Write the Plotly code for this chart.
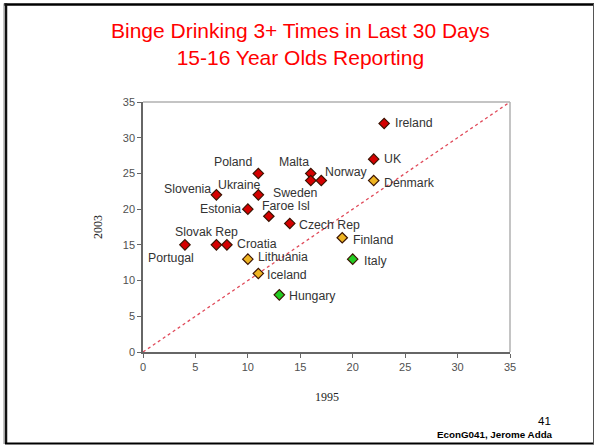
import plotly.graph_objects as go

# Share of 15-16 year olds reporting binge drinking 3+ times in the last 30 days
countries = ["Ireland", "UK", "Denmark", "Poland", "Malta", "Sweden", "Norway",
             "Slovenia", "Ukraine", "Estonia", "Faroe Isl", "Czech Rep", "Finland",
             "Portugal", "Slovak Rep", "Croatia", "Lithuania", "Iceland", "Italy", "Hungary"]
y1995 = [23, 22, 22, 11, 16, 16, 17, 7, 11, 10, 12, 14, 19, 4, 7, 8, 10, 11, 20, 13]
y2003 = [32, 27, 24, 25, 25, 24, 24, 22, 22, 20, 19, 18, 16, 15, 15, 15, 13, 11, 13, 8]
trend = ["up", "up", "mid", "up", "up", "up", "up", "up", "up", "up", "up", "up", "mid",
         "up", "up", "up", "mid", "mid", "down", "down"]

x_ticks = [0, 5, 10, 15, 20, 25, 30, 35]
y_ticks = [0, 5, 10, 15, 20, 25, 30, 35]
diag = [0, 35]

colors = {"up": "#d40000", "mid": "#eeb422", "down": "#22cc22"}

# label placement: (xanchor, xshift px, yshift px)
label_pos = {
    "Ireland": ("left", 10, 0), "UK": ("left", 9, 0), "Denmark": ("left", 9, -2),
    "Poland": ("right", -5, 11), "Malta": ("right", -1, 11), "Sweden": ("center", -15, -12),
    "Norway": ("left", 3, 9), "Slovenia": ("right", -4, 6), "Ukraine": ("center", -19, 10),
    "Estonia": ("right", -6, 0), "Faroe Isl": ("center", 17, 10), "Czech Rep": ("left", 8, -2),
    "Finland": ("left", 10, -2), "Portugal": ("center", -14, -13), "Slovak Rep": ("center", -10, 13),
    "Croatia": ("left", 9, 1), "Lithuania": ("left", 9, 2), "Iceland": ("left", 8, -2),
    "Italy": ("left", 10, -2), "Hungary": ("left", 9, -1),
}

W, H = 594, 445
L, R, T, B = 143, 84, 102, 93
PW, PH = W - L - R, H - T - B


def px(x):
    return (x - L) / PW


def py(y):
    return (H - B - y) / PH


fig = go.Figure()

fig.add_trace(go.Scatter(
    x=diag, y=diag, mode="lines",
    line=dict(color="#e04a5a", width=1.3, dash="dot"),
    hoverinfo="skip", showlegend=False,
))

fig.add_trace(go.Scatter(
    x=y1995, y=y2003, mode="markers", text=countries,
    marker=dict(symbol="diamond", size=8,
                color=[colors[t] for t in trend],
                line=dict(color="#3a1200", width=1.2)),
    showlegend=False,
))

annotations = []
for name, xv, yv in zip(countries, y1995, y2003):
    anchor, dx, dy = label_pos[name]
    annotations.append(dict(
        x=xv, y=yv, xref="x", yref="y", text=name, showarrow=False,
        xanchor=anchor, yanchor="middle", xshift=dx, yshift=dy,
        borderpad=0,
        font=dict(family="Liberation Sans, Arial", size=12.3, color="#333333"),
    ))

# slide title
annotations.append(dict(
    x=px(300.5), y=py(44), xref="paper", yref="paper", showarrow=False,
    text="Binge Drinking 3+ Times in Last 30 Days<br>15-16 Year Olds Reporting",
    xanchor="center", yanchor="middle", align="center",
    font=dict(family="Liberation Sans, Arial", size=21, color="#ff0000"),
))
# axis titles
annotations.append(dict(
    x=px(326.5), y=py(397), xref="paper", yref="paper", showarrow=False,
    text="1995", xanchor="center", yanchor="middle",
    font=dict(family="Liberation Serif, Times New Roman", size=12, color="#222222"),
))
annotations.append(dict(
    x=px(98), y=py(227), xref="paper", yref="paper", showarrow=False,
    text="2003", textangle=-90, xanchor="center", yanchor="middle",
    font=dict(family="Liberation Serif, Times New Roman", size=12, color="#222222"),
))
# footer
annotations.append(dict(
    x=px(553), y=py(421), xref="paper", yref="paper", showarrow=False,
    text="41", xanchor="right", yanchor="middle",
    font=dict(family="Liberation Sans, Arial", size=11.5, color="#000000"),
))
annotations.append(dict(
    x=px(555), y=py(434), xref="paper", yref="paper", showarrow=False,
    text="<b>EconG041, Jerome Adda</b>", xanchor="right", yanchor="middle",
    font=dict(family="Liberation Sans, Arial", size=9.8, color="#000000"),
))

shapes = [
    # light frame on the top and right of the plot area
    dict(type="line", xref="paper", yref="paper", x0=0, y0=1, x1=1, y1=1,
         line=dict(color="#b0b0b0", width=1.5)),
    dict(type="line", xref="paper", yref="paper", x0=1, y0=0, x1=1, y1=1,
         line=dict(color="#b0b0b0", width=1.5)),
    # slide border
    dict(type="line", xref="paper", yref="paper", x0=px(4), y0=py(4.5), x1=px(594), y1=py(4.5),
         line=dict(color="#000000", width=2.5)),
    dict(type="line", xref="paper", yref="paper", x0=px(6), y0=py(3.5), x1=px(6), y1=py(444),
         line=dict(color="#111111", width=2.5)),
    dict(type="line", xref="paper", yref="paper", x0=px(4), y0=py(3.5), x1=px(4), y1=py(444),
         line=dict(color="#888888", width=1)),
    dict(type="line", xref="paper", yref="paper", x0=px(5), y0=py(443.5), x1=px(594), y1=py(443.5),
         line=dict(color="#000000", width=2)),
    dict(type="line", xref="paper", yref="paper", x0=px(593.5), y0=py(4), x1=px(593.5), y1=py(444),
         line=dict(color="#555555", width=1)),
]

axis_common = dict(
    showgrid=False, zeroline=False, showline=True, linecolor="#666666", linewidth=1.5,
    ticks="outside", ticklen=4, tickcolor="#666666", tickwidth=1,
    tickfont=dict(family="Liberation Sans, Arial", size=11, color="#505050"),
    range=[0, 35],
)

fig.update_layout(
    width=W, height=H,
    margin=dict(l=L, r=R, t=T, b=B),
    paper_bgcolor="white", plot_bgcolor="white",
    xaxis=dict(tickvals=x_ticks, **axis_common),
    yaxis=dict(tickvals=y_ticks, **axis_common),
    annotations=annotations,
    shapes=shapes,
)

fig.write_html("out.html", config={"displayModeBar": False})
